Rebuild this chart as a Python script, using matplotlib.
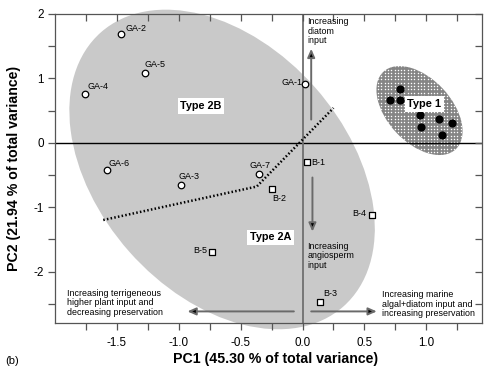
import matplotlib
matplotlib.use("Agg")
import numpy as np
import matplotlib.pyplot as plt
from matplotlib.patches import Ellipse
from matplotlib.transforms import Affine2D

plt.rcParams["font.family"] = ["Liberation Sans", "DejaVu Sans"]
plt.rcParams["axes.unicode_minus"] = False

# sample scores on the first two principal components
ga_labels = ["GA-1", "GA-2", "GA-3", "GA-4", "GA-5", "GA-6", "GA-7"]
ga_pc1 = [0.02, -1.47, -0.98, -1.76, -1.27, -1.58, -0.35]
ga_pc2 = [0.91, 1.69, -0.65, 0.75, 1.08, -0.43, -0.49]

b_labels = ["B-1", "B-2", "B-3", "B-4", "B-5"]
b_pc1 = [0.04, -0.25, 0.14, 0.56, -0.73]
b_pc2 = [-0.30, -0.72, -2.47, -1.12, -1.69]

type1_pc1 = [0.785, 0.71, 0.785, 0.95, 1.10, 1.21, 0.96, 1.13]
type1_pc2 = [0.84, 0.66, 0.67, 0.43, 0.37, 0.31, 0.25, 0.12]

# label offsets in pixels (dx, dy, ha, va)
ga_offsets = [(-3, 2, "right", "center"), (5, 1, "left", "bottom"),
              (-3, 4, "left", "bottom"), (3, 3, "left", "bottom"),
              (-1, 4, "left", "bottom"), (2, 2, "left", "bottom"),
              (-10, 4, "left", "bottom")]
b_offsets = [(4, 0, "left", "center"), (1, -5, "left", "top"),
              (3, 4, "left", "bottom"), (-6, 1, "right", "center"),
              (-5, 1, "right", "center")]

fig = plt.figure(figsize=(4.94, 3.78), dpi=100)
ax = fig.add_axes([55 / 494, 55 / 378, 427 / 494, 309 / 378])
ax.set_xlim(-2.0, 1.45)
ax.set_ylim(-2.8, 2.0)

# pixels per data unit, so the group ellipses can be sized on screen
sx = 427 / 3.45
sy = 309 / 4.8

def screen_ellipse(cx, cy, w, h, angle, **kw):
    tr = Affine2D().scale(1 / sx, 1 / sy).translate(cx, cy) + ax.transData
    e = Ellipse((0, 0), w, h, angle=angle, transform=tr, clip_on=False, **kw)
    ax.add_patch(e)
    return e

# Type 2 field and Type 1 field
screen_ellipse(-0.65, -0.415, 366, 248, -48.5, facecolor="#c9c9c9",
               edgecolor="none", zorder=0)
t1 = screen_ellipse(0.945, 0.50, 106, 64, -47, facecolor="#858585",
                    edgecolor="none", zorder=0)

# white stipple inside the Type 1 field
gx, gy = np.meshgrid(np.arange(0.45, 1.45, 3.3 / sx),
                     np.arange(-0.35, 1.35, 3.3 / sy))
ax.scatter(gx.ravel(), gy.ravel(), s=1.1, color="white", marker="o",
           lw=0, zorder=0.5, clip_path=t1)

ax.axhline(0, color="black", lw=1, zorder=1)
ax.axvline(0, color="#707070", lw=1.3, zorder=1)

ax.plot([-1.61, -0.37, 0.25], [-1.20, -0.68, 0.54], color="black",
        lw=1.8, ls=(0, (0.6, 0.9)), zorder=2)

ax.scatter(ga_pc1, ga_pc2, s=22, facecolor="white", edgecolor="black",
           lw=0.9, zorder=3)
ax.scatter(b_pc1, b_pc2, s=24, marker="s", facecolor="white",
           edgecolor="black", lw=0.9, zorder=3)
ax.scatter(type1_pc1, type1_pc2, s=24, color="black", zorder=3)

for lab, x, y, (dx, dy, ha, va) in zip(ga_labels, ga_pc1, ga_pc2, ga_offsets):
    ax.annotate(lab, (x, y), xytext=(dx, dy), textcoords="offset pixels",
                ha=ha, va=va, fontsize=6.5, zorder=4)
for lab, x, y, (dx, dy, ha, va) in zip(b_labels, b_pc1, b_pc2, b_offsets):
    ax.annotate(lab, (x, y), xytext=(dx, dy), textcoords="offset pixels",
                ha=ha, va=va, fontsize=6.5, zorder=4)

box = dict(boxstyle="square,pad=0.25", facecolor="white", edgecolor="none")
ax.text(-0.82, 0.57, "Type 2B", fontsize=7.8, fontweight="bold",
        ha="center", va="center", bbox=box, zorder=5)
ax.text(-0.26, -1.47, "Type 2A", fontsize=7.8, fontweight="bold",
        ha="center", va="center", bbox=box, zorder=5)
ax.text(0.985, 0.60, "Type 1", fontsize=7.9, fontweight="bold",
        ha="center", va="center", bbox=dict(box, pad=0.2), zorder=5)

arrow = dict(arrowstyle="-|>,head_length=0.5,head_width=0.22",
             edgecolor="#6a6a6a", facecolor="black", lw=1.4,
             shrinkA=0, shrinkB=0)
ax.annotate("", xy=(0.07, 1.46), xytext=(0.07, 0.36), arrowprops=arrow, zorder=2)
ax.annotate("", xy=(0.08, -1.38), xytext=(0.08, -0.54), arrowprops=arrow, zorder=2)
ax.annotate("", xy=(-0.93, -2.62), xytext=(-0.07, -2.62), arrowprops=arrow, zorder=2)
ax.annotate("", xy=(0.60, -2.62), xytext=(0.07, -2.62), arrowprops=arrow, zorder=2)

small = dict(fontsize=6.4, linespacing=1.05, ha="left", va="top", zorder=4)
ax.text(0.04, 1.95, "Increasing\ndiatom\ninput", **small)
ax.text(0.04, -1.54, "Increasing\nangiosperm\ninput", **small)
ax.text(-1.90, -2.27, "Increasing terrigeneous\nhigher plant input and\n"
        "decreasing preservation", **small)
ax.text(0.64, -2.29, "Increasing marine\nalgal+diatom input and\n"
        "increasing preservation", **small)

ax.set_xticks([-1.5, -1.0, -0.5, 0.0, 0.5, 1.0])
ax.set_xticks([-1.75, -1.25, -0.75, -0.25, 0.25, 0.75, 1.25], minor=True)
ax.set_yticks([-2, -1, 0, 1, 2])
ax.set_yticks([-2.5, -1.5, -0.5, 0.5, 1.5], minor=True)
ax.set_xticklabels(["-1.5", "-1.0", "-0.5", "0.0", "0.5", "1.0"])
ax.set_yticklabels(["-2", "-1", "0", "1", "2"])
ax.tick_params(which="both", direction="out", length=5, width=0.9,
               color="#555555", labelsize=8.4, pad=3)
ax.tick_params(axis="x", pad=5)
ax.tick_params(which="both", top=True, right=True)
for sp in ax.spines.values():
    sp.set_color("#555555")
    sp.set_linewidth(0.9)

ax.set_xlabel("PC1 (45.30 % of total variance)", fontsize=10.2,
              fontweight="bold")
ax.xaxis.set_label_coords(0.516, -0.093)
ax.set_ylabel("PC2 (21.94 % of total variance)", fontsize=10.2,
              fontweight="bold")
ax.yaxis.set_label_coords(-0.08, 0.5)
fig.text(0.01, 0.045, "(b)", fontsize=8, ha="left", va="center")

# top/right ticks point inward, bottom/left outward
for t in ax.xaxis.get_major_ticks() + ax.xaxis.get_minor_ticks():
    t.tick2line.set_marker(matplotlib.lines.TICKDOWN)
for t in ax.yaxis.get_major_ticks() + ax.yaxis.get_minor_ticks():
    t.tick2line.set_marker(matplotlib.lines.TICKLEFT)

fig.savefig("out.png", dpi=100)
